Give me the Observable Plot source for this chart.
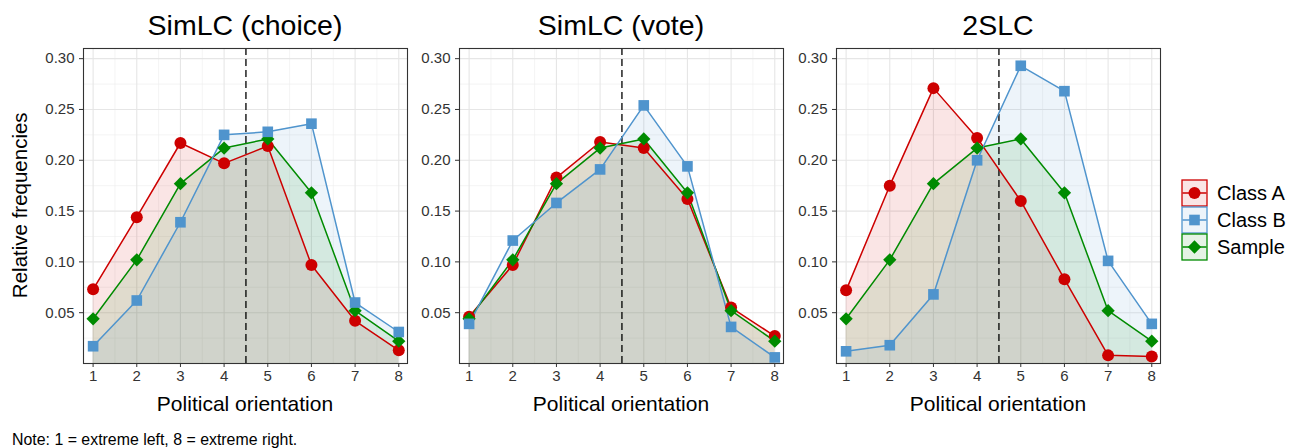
<!DOCTYPE html>
<html><head><meta charset="utf-8">
<script src="https://cdn.jsdelivr.net/npm/d3@7"></script>
<script src="https://cdn.jsdelivr.net/npm/@observablehq/plot@0.6"></script>
<style>
body{margin:0;background:#fff;font-family:"Liberation Sans",Arial,Helvetica,sans-serif;}
#root{position:relative;width:1293px;height:448px;overflow:hidden;background:#fff;}
.abs{position:absolute;white-space:nowrap;line-height:1;color:#000;}
.title{font-size:28.5px;text-align:center;}
.xlab{font-size:21px;text-align:center;}
.ylab{font-size:20.5px;text-align:center;}
.note{font-size:15.9px;}
.legtext{font-size:20px;}
</style></head><body><div id="root"></div>
<script>
// ---- data ----
const positions = [1, 2, 3, 4, 5, 6, 7, 8];
const panelTitles = ["SimLC (choice)", "SimLC (vote)", "2SLC"];
const seriesNames = ["Class A", "Class B", "Sample"];
const seriesColors = ["#CD0000", "#4F94CD", "#008B00"];
const seriesSymbols = ["circle", "square", "diamond2"];
const choiceClassA = [0.073, 0.144, 0.217, 0.197, 0.214, 0.097, 0.042, 0.013];
const choiceClassB = [0.017, 0.062, 0.139, 0.225, 0.228, 0.236, 0.060, 0.031];
const voteClassA   = [0.046, 0.097, 0.183, 0.218, 0.212, 0.162, 0.055, 0.027];
const voteClassB   = [0.039, 0.121, 0.158, 0.191, 0.254, 0.194, 0.036, 0.006];
const tslcClassA   = [0.072, 0.175, 0.271, 0.222, 0.160, 0.083, 0.008, 0.007];
const tslcClassB   = [0.012, 0.018, 0.068, 0.200, 0.293, 0.268, 0.101, 0.039];
const sampleFreq   = [0.044, 0.102, 0.177, 0.212, 0.221, 0.168, 0.052, 0.022];
const yTicks = [0.05, 0.10, 0.15, 0.20, 0.25, 0.30];
const yMinor = [0.025, 0.075, 0.125, 0.175, 0.225, 0.275];
const xMinor = [1.5, 2.5, 3.5, 4.5, 5.5, 6.5, 7.5];
const cutPoint = 4.5;
const xLabel = "Political orientation";
const yLabel = "Relative frequencies";
const noteText = "Note: 1 = extreme left, 8 = extreme right.";

const panelSeries = [
  [choiceClassA, choiceClassB, sampleFreq],
  [voteClassA, voteClassB, sampleFreq],
  [tslcClassA, tslcClassB, sampleFreq]
];

// ---- layout ----
const root = document.getElementById("root");
const frameLefts = [83, 459, 836];
const frameW = 324, frameTop = 48, frameBottom = 363, svgH = 420, mL = 52, mR = 4;
const font = '"Liberation Sans", Arial, Helvetica, sans-serif';

function addDiv(cls, text, css) {
  const d = document.createElement("div");
  d.className = "abs " + cls;
  d.textContent = text;
  Object.assign(d.style, css);
  root.appendChild(d);
  return d;
}

panelSeries.forEach((series, i) => {
  const rows = [];
  series.forEach((vals, s) => vals.forEach((v, j) => rows.push({x: positions[j], y: v, s: seriesNames[s]})));
  const drawOrder = ["Class A", "Sample", "Class B"];
  const chart = Plot.plot({
    width: mL + frameW + mR,
    height: svgH,
    marginLeft: mL, marginRight: mR, marginTop: frameTop, marginBottom: svgH - frameBottom,
    x: {domain: [0.78, 8.2]},
    y: {domain: [0, 0.31]},
    color: {domain: seriesNames, range: seriesColors},
    symbol: {domain: seriesNames, range: seriesSymbols},
    style: {fontFamily: font, fontSize: "15px", color: "#333", background: "transparent", overflow: "visible"},
    marks: [
      Plot.gridY(yMinor, {stroke: "#ececec", strokeOpacity: 1, strokeWidth: 0.6}),
      Plot.gridX(xMinor, {stroke: "#ececec", strokeOpacity: 1, strokeWidth: 0.6}),
      Plot.gridY(yTicks, {stroke: "#e6e6e6", strokeOpacity: 1, strokeWidth: 1.1}),
      Plot.gridX(positions, {stroke: "#e6e6e6", strokeOpacity: 1, strokeWidth: 1.1}),
      ...seriesNames.map(name => Plot.area(rows.filter(r => r.s === name), {x1: "x", y1: () => 0, y2: "y", fill: "s", fillOpacity: 0.1})),
      Plot.ruleX([cutPoint], {stroke: "#000", strokeWidth: 1.3, strokeDasharray: "7,4"}),
      ...drawOrder.map(name => Plot.line(rows.filter(r => r.s === name), {x: "x", y: "y", stroke: "s", strokeWidth: 1.5})),
      ...drawOrder.map(name => Plot.dot(rows.filter(r => r.s === name), {x: "x", y: "y", fill: "s", symbol: "s", r: 6, stroke: "none"})),
      Plot.axisY(yTicks, {tickFormat: d3.format(".2f"), tickSize: 4, tickPadding: 5, fontSize: 15, label: null, stroke: "#333"}),
      Plot.axisX(positions, {tickFormat: d3.format("d"), tickSize: 4, tickPadding: 3, fontSize: 15, label: null, stroke: "#333"}),
      Plot.frame({stroke: "#333", strokeWidth: 1.1})
    ]
  });
  chart.style.position = "absolute";
  chart.style.left = (frameLefts[i] - mL) + "px";
  chart.style.top = "0px";
  root.appendChild(chart);

  addDiv("title", panelTitles[i], {left: frameLefts[i] + "px", width: frameW + "px", top: "10.5px"});
  addDiv("xlab", xLabel, {left: frameLefts[i] + "px", width: frameW + "px", top: "393px"});
});

// y axis title
addDiv("ylab", yLabel, {left: (20 - 150) + "px", width: "300px", top: (205.5 - 10.25) + "px", transform: "rotate(-90deg)", transformOrigin: "50% 50%"});

// note
addDiv("note", noteText, {left: "12px", top: "431.5px"});

// legend
const legTop = 180, keyW = 25, keyH = 26, legX = 1181.5;
seriesNames.forEach((name, k) => {
  const y0 = legTop + k * (keyH + 1);
  const svg = d3.create("svg").attr("width", keyW + 2).attr("height", keyH + 2)
    .style("position", "absolute").style("left", (legX - 1) + "px").style("top", (y0 - 1) + "px");
  svg.append("rect").attr("x", 1).attr("y", 1).attr("width", keyW).attr("height", keyH)
    .attr("fill", seriesColors[k]).attr("fill-opacity", 0.1).attr("stroke", seriesColors[k]).attr("stroke-width", 1.3);
  svg.append("line").attr("x1", 1.5).attr("x2", keyW + 0.5).attr("y1", 1 + keyH / 2).attr("y2", 1 + keyH / 2)
    .attr("stroke", seriesColors[k]).attr("stroke-width", 1.5);
  const sym = [d3.symbolCircle, d3.symbolSquare, d3.symbolDiamond2][k];
  svg.append("path").attr("transform", `translate(${1 + keyW / 2},${1 + keyH / 2})`)
    .attr("d", d3.symbol(sym, Math.PI * 36)()).attr("fill", seriesColors[k]);
  root.appendChild(svg.node());
  addDiv("legtext", name, {left: "1217px", top: (y0 + keyH / 2 - 10) + "px"});
});
</script>
</body></html>
